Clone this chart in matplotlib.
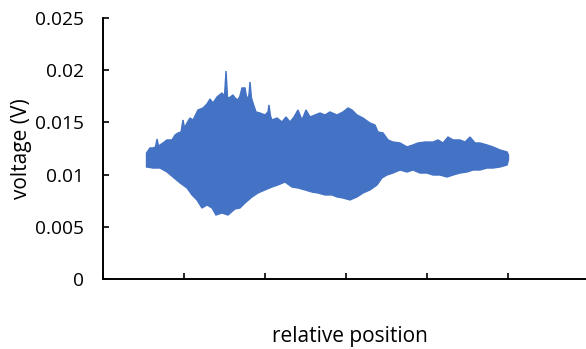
import numpy as np
import matplotlib.pyplot as plt

plt.rcParams['font.family'] = ['Open Sans', 'DejaVu Sans']

x_upper = [0.537, 0.580, 0.617, 0.648, 0.667, 0.685, 0.704, 0.741, 0.790, 0.852,
           0.889, 0.926, 0.963, 0.988, 1.006, 1.037, 1.074, 1.111, 1.173, 1.235,
           1.284, 1.321, 1.358, 1.407, 1.469, 1.500, 1.519, 1.537, 1.556, 1.605,
           1.630, 1.667, 1.691, 1.716, 1.753, 1.778, 1.802, 1.815, 1.833, 1.852,
           1.889, 1.938, 2.000, 2.037, 2.049, 2.068, 2.086, 2.148, 2.210, 2.259,
           2.309, 2.358, 2.407, 2.457, 2.506, 2.556, 2.617, 2.679, 2.741, 2.802,
           2.889, 2.963, 3.025, 3.074, 3.136, 3.210, 3.296, 3.358, 3.395, 3.457,
           3.519, 3.580, 3.667, 3.753, 3.827, 3.889, 3.975, 4.074, 4.136, 4.198,
           4.259, 4.321, 4.407, 4.469, 4.531, 4.593, 4.654, 4.741, 4.815, 4.901,
           4.988, 5.006]
v_upper = [0.01207, 0.01255, 0.01255, 0.01265, 0.01341, 0.01274, 0.01284, 0.01303, 0.01332, 0.01332,
           0.01379, 0.01399, 0.01408, 0.01523, 0.01447, 0.01494, 0.01542, 0.01523, 0.01619, 0.01638,
           0.01677, 0.01724, 0.01686, 0.01743, 0.01782, 0.01753, 0.01992, 0.01743, 0.01734, 0.01763,
           0.01734, 0.01715, 0.01753, 0.01830, 0.01830, 0.01715, 0.01763, 0.01887, 0.01734, 0.01686,
           0.01600, 0.01590, 0.01571, 0.01600, 0.01667, 0.01561, 0.01523, 0.01542, 0.01504, 0.01552,
           0.01504, 0.01552, 0.01619, 0.01523, 0.01619, 0.01552, 0.01571, 0.01590, 0.01571, 0.01600,
           0.01571, 0.01600, 0.01638, 0.01619, 0.01571, 0.01542, 0.01494, 0.01475, 0.01408, 0.01399,
           0.01332, 0.01312, 0.01303, 0.01265, 0.01284, 0.01303, 0.01312, 0.01312, 0.01332, 0.01303,
           0.01360, 0.01332, 0.01332, 0.01312, 0.01360, 0.01303, 0.01303, 0.01284, 0.01265, 0.01236,
           0.01217, 0.01188]

x_lower = [0.537, 0.617, 0.704, 0.790, 0.864, 0.951, 1.037, 1.099, 1.160, 1.222,
           1.284, 1.346, 1.395, 1.469, 1.543, 1.630, 1.691, 1.753, 1.840, 1.914,
           2.000, 2.086, 2.160, 2.247, 2.333, 2.407, 2.494, 2.580, 2.654, 2.741,
           2.827, 2.889, 2.963, 3.049, 3.136, 3.210, 3.296, 3.383, 3.444, 3.506,
           3.580, 3.667, 3.753, 3.827, 3.914, 4.000, 4.074, 4.160, 4.247, 4.321,
           4.407, 4.494, 4.568, 4.654, 4.741, 4.815, 4.901, 4.988, 5.006]
v_lower = [0.01073, 0.01063, 0.01063, 0.01025, 0.00977, 0.00920, 0.00872, 0.00805, 0.00757, 0.00680,
           0.00709, 0.00680, 0.00613, 0.00632, 0.00613, 0.00671, 0.00680, 0.00728, 0.00786, 0.00824,
           0.00853, 0.00881, 0.00901, 0.00929, 0.00881, 0.00872, 0.00853, 0.00833, 0.00824, 0.00805,
           0.00805, 0.00786, 0.00776, 0.00757, 0.00786, 0.00824, 0.00853, 0.00901, 0.00968, 0.00996,
           0.01015, 0.01044, 0.01025, 0.01044, 0.01015, 0.01015, 0.00996, 0.00996, 0.00977, 0.00996,
           0.01015, 0.01025, 0.01044, 0.01044, 0.01063, 0.01063, 0.01073, 0.01092, 0.01140]

y_ticks = [0, 0.005, 0.01, 0.015, 0.02, 0.025]
y_tick_labels = ['0', '0.005', '0.01', '0.015', '0.02', '0.025']
x_ticks = [0, 1, 2, 3, 4, 5]

blue = '#4472C4'

fig = plt.figure(figsize=(5.86, 3.49), dpi=100)
ax = fig.add_axes([103 / 586, 70 / 349, 486 / 586, 261 / 349])

# band of the oscillating trace
ax.fill(np.r_[x_upper, x_lower[::-1]], np.r_[v_upper, v_lower[::-1]],
        color=blue, edgecolor=blue, linewidth=1.0)

ax.set_xlim(0, 6)
ax.set_ylim(0, 0.025)
ax.set_yticks(y_ticks)
ax.set_yticklabels(y_tick_labels)
ax.set_xticks(x_ticks)
ax.set_xticklabels([])

for side in ['top', 'right']:
    ax.spines[side].set_visible(False)
for side in ['left', 'bottom']:
    ax.spines[side].set_linewidth(1.4)
    ax.spines[side].set_color('black')

ax.tick_params(axis='y', direction='in', length=4.5, width=1.2,
               labelsize=13.8, pad=14, colors='black')
ax.tick_params(axis='x', direction='in', length=4, width=1.2)

ax.set_ylabel('voltage (V)', fontsize=15)
ax.set_xlabel('relative position', fontsize=15)
ax.yaxis.set_label_coords(-0.146, 0.5)
ax.xaxis.set_label_coords(0.508, -0.18)

fig.savefig('out.png', dpi=100)
